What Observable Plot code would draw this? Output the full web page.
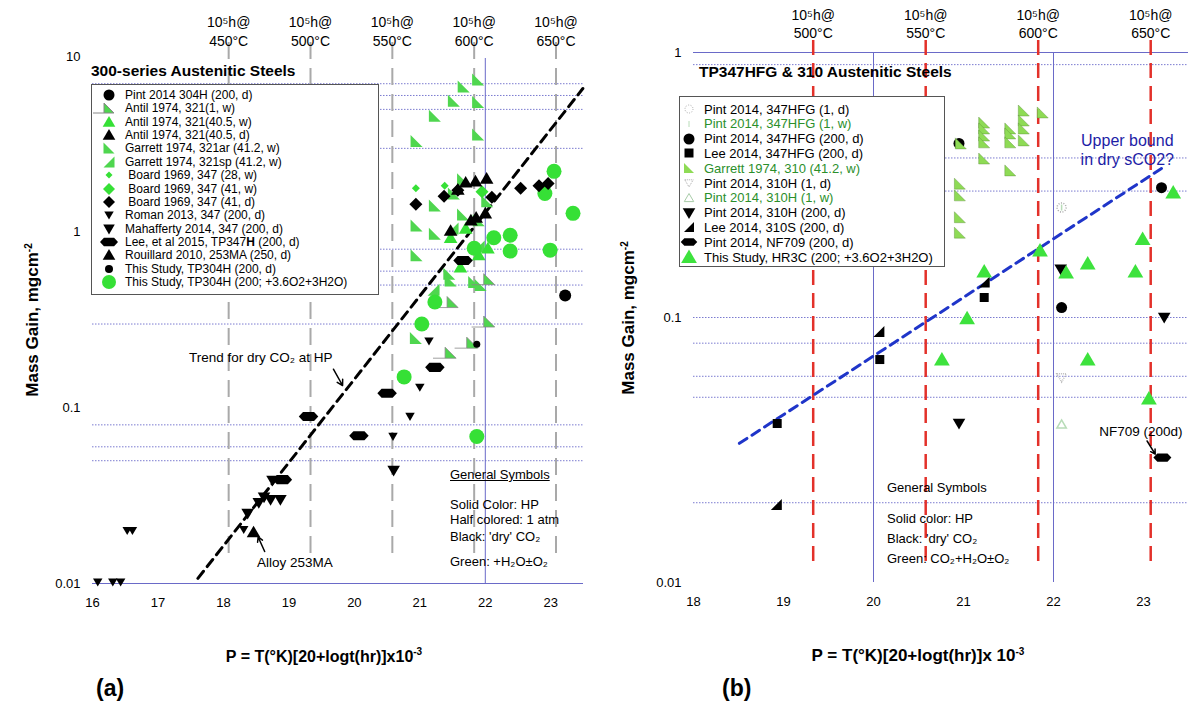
<!DOCTYPE html>
<html><head><meta charset="utf-8">
<script src="https://cdn.jsdelivr.net/npm/d3@7"></script>
<script src="https://cdn.jsdelivr.net/npm/@observablehq/plot@0.6"></script>
<style>
html,body{margin:0;padding:0;background:#fff;}
#wrap{position:relative;width:1188px;height:702px;overflow:hidden;font-family:"Liberation Sans",Arial,Helvetica,sans-serif;color:#000;}
.abs{position:absolute;white-space:nowrap;}
.pl{position:absolute;top:0;}
.legend{position:absolute;background:#fff;border:1px solid #555;box-sizing:border-box;}
.lrow{position:absolute;left:0;height:14px;display:flex;align-items:center;white-space:nowrap;}
</style></head><body><div id="wrap"></div>
<script>
// ---------------- DATA ----------------
// Reference lines: 10^5 h at temperature (Larson-Miller P)
const refTempsA = [450, 500, 550, 600, 650];
const refPA = [18.08, 19.33, 20.58, 21.83, 23.08];
const refTempsB = [500, 550, 600, 650];
const refPB = [19.33, 20.58, 21.83, 23.08];

const xTicksA = [16, 17, 18, 19, 20, 21, 22, 23];
const yTicksA = [0.01, 0.1, 1, 10];
const xTicksB = [18, 19, 20, 21, 22, 23];
const yTicksB = [0.01, 0.1, 1];

const gridYA = [7, 6, 5, 3, 0.8, 0.6, 0.5, 0.3, 0.08, 0.06, 0.05];
const gridXA = [22];
const gridYB = [0.9, 0.4, 0.3, 0.1, 0.08, 0.06, 0.05, 0.02];
const gridXB = [20, 22];

// Panel (a) series: [P, mass gain]
const aPint304H = [[23.22, 0.436]];
const aAntil1w = [[21.50, 0.40], [22.06, 0.31], [22.06, 0.54], [21.47, 0.206], [21.80, 0.235]];
const aAntil40w = [[21.47, 0.93], [22.04, 0.81], [21.90, 0.74], [21.70, 1.05], [21.62, 0.63]];
const aAntil40d = [[21.70, 1.92], [21.85, 1.95], [22.02, 2.02], [21.78, 1.17], [21.86, 1.21], [22.00, 1.28], [21.47, 1.02], [21.58, 1.75]];
const aGarrettAr = [[21.89, 7.4], [21.67, 6.75], [21.52, 5.6], [21.89, 5.5], [21.23, 4.6], [21.89, 3.6], [20.95, 3.3],
  [21.66, 2.0], [21.23, 1.42], [21.52, 1.66], [21.66, 1.26], [20.95, 1.09], [21.23, 0.98], [20.95, 0.74],
  [21.45, 0.58], [21.47, 0.53], [20.94, 0.25], [21.83, 0.52], [21.93, 0.50], [21.90, 1.17], [22.03, 1.5]];
const aGarrettSp = [[21.21, 0.47], [21.50, 1.05], [21.90, 0.83]];
const aBoard28w = [[20.94, 1.78], [21.38, 1.84]];
const aBoard41w = [[21.95, 1.70]];
const aBoard41d = [[20.94, 1.44], [21.37, 1.60], [21.58, 1.73], [22.54, 1.78], [22.82, 1.84], [22.96, 1.89], [22.10, 1.58]];
const aRoman = [[16.08, 0.0102], [16.31, 0.0102], [16.43, 0.0102], [16.53, 0.020], [16.61, 0.020], [18.31, 0.0203],
  [21.14, 0.24], [21.00, 0.131], [20.85, 0.0893], [20.59, 0.0687]];
const aMahafferty = [[20.60, 0.044], [18.37, 0.025], [18.54, 0.0288], [18.62, 0.031], [18.72, 0.030], [18.87, 0.030], [18.75, 0.0386]];
const aLee = [[18.90, 0.039], [19.30, 0.0893], [20.07, 0.0693], [20.50, 0.121], [21.23, 0.170], [21.66, 0.69]];
const aRouillard = [[18.46, 0.0196]];
const aStudyDry = [[21.87, 0.23]];
const aStudyWet = [[23.05, 2.22], [22.91, 1.66], [23.34, 1.28], [22.13, 0.93], [22.38, 0.96], [22.38, 0.78], [22.99, 0.79],
  [21.83, 0.81], [21.23, 0.40], [21.03, 0.30], [20.76, 0.150], [21.87, 0.0687]];
const aTrendP = [17.61, 23.49];
const aTrendV = [0.0107, 6.57];

// Panel (b) series
const bPint347_1d = [[22.09, 0.26]];
const bPint347_1w = [[22.09, 0.26]];
const bPint347_200d = [[20.95, 0.454], [23.20, 0.309], [22.09, 0.109]];
const bLee347 = [[21.23, 0.119], [20.07, 0.0694], [18.93, 0.0398]];
const bGarrett310 = [[21.23, 0.544], [21.23, 0.517], [21.23, 0.486], [21.23, 0.458], [21.23, 0.398],
  [21.52, 0.517], [21.52, 0.495], [21.52, 0.458], [21.52, 0.359],
  [21.67, 0.604], [21.67, 0.554], [21.67, 0.517], [21.67, 0.466], [21.88, 0.594],
  [20.96, 0.320], [20.96, 0.289], [20.96, 0.239], [20.96, 0.209], [20.97, 0.454]];
const bPint310_1d = [[22.09, 0.0594]];
const bPint310_1w = [[22.09, 0.0395]];
const bPint310_200d = [[22.08, 0.152], [23.23, 0.100], [20.95, 0.0398]];
const bLee310S = [[21.23, 0.136], [20.06, 0.0886], [18.92, 0.0197]];
const bNF709 = [[23.21, 0.0296]];
const bStudyHR3C = [[23.33, 0.296], [22.99, 0.198], [21.85, 0.179], [21.23, 0.149], [22.14, 0.148], [22.38, 0.160],
  [22.91, 0.149], [21.04, 0.0993], [20.76, 0.0694], [22.38, 0.0694], [23.06, 0.0495]];
const bBoundP = [18.51, 23.20];
const bBoundV = [0.0335, 0.365];

// ---------------- SYMBOLS ----------------
const S = f => ({draw(c, size) { const r = Math.sqrt(size / Math.PI); f(c, r); }});
const SYM = {
  circle: S((c, r) => { c.moveTo(r, 0); c.arc(0, 0, r, 0, 2 * Math.PI); }),
  triUp: S((c, r) => { c.moveTo(0, -r); c.lineTo(r * 1.05, r * 0.8); c.lineTo(-r * 1.05, r * 0.8); c.closePath(); }),
  triDown: S((c, r) => { c.moveTo(-r * 1.05, -r * 0.8); c.lineTo(r * 1.05, -r * 0.8); c.lineTo(0, r); c.closePath(); }),
  wedgeL: S((c, r) => { c.moveTo(-r, -r); c.lineTo(r, r); c.lineTo(-r, r); c.closePath(); }),
  wedgeR: S((c, r) => { c.moveTo(r, -r); c.lineTo(r, r); c.lineTo(-r, r); c.closePath(); }),
  wedgeHalf: S((c, r) => { c.moveTo(-r, -r); c.lineTo(r, r); c.lineTo(-r, r); c.closePath(); c.moveTo(-r, r); c.lineTo(-3.2 * r, r); }),
  hex: S((c, r) => { c.moveTo(-1.5 * r, 0); c.lineTo(-0.85 * r, -0.7 * r); c.lineTo(0.85 * r, -0.7 * r); c.lineTo(1.5 * r, 0); c.lineTo(0.85 * r, 0.7 * r); c.lineTo(-0.85 * r, 0.7 * r); c.closePath(); }),
  diamond: S((c, r) => { c.moveTo(0, -r); c.lineTo(r, 0); c.lineTo(0, r); c.lineTo(-r, 0); c.closePath(); }),
  square: S((c, r) => { c.rect(-r, -r, 2 * r, 2 * r); }),
  vline: S((c, r) => { c.moveTo(0, -r); c.lineTo(0, r); })
};

const G1 = "#36e036", G2 = "#4fd64f", G3 = "#8edb55", G4 = "#3de23d", GT = "#2b8f2b";
const GRID = "#7b7bd0";
const FONT = "Liberation Sans, Arial, Helvetica, sans-serif";
const X = d => d[0], Y = d => d[1];
const dot = (data, sym, r, fill, o = {}) => Plot.dot(data, {x: X, y: Y, symbol: SYM[sym], r, fill, stroke: "none", ...o});

const wrap = document.getElementById("wrap");
function place(node, left) { const d = document.createElement("div"); d.className = "pl"; d.style.left = left + "px"; d.appendChild(node); wrap.appendChild(d); }
function addText(html, style) { const d = document.createElement("div"); d.className = "abs"; d.innerHTML = html; Object.assign(d.style, style); wrap.appendChild(d); return d; }

// ---------------- PANEL (a) ----------------
const refA = refPA.map((P, i) => ({P, T: refTempsA[i]}));
const plotA = Plot.plot({
  width: 600, height: 620,
  marginLeft: 92, marginRight: 17, marginTop: 56, marginBottom: 37,
  x: {domain: [16, 23.5], label: null},
  y: {type: "log", domain: [0.01, 10], label: null},
  style: {fontFamily: FONT, fontSize: "13px", background: "transparent", overflow: "visible"},
  marks: [
    Plot.ruleY(gridYA, {stroke: GRID, strokeWidth: 1, strokeDasharray: "1.5,1.5"}),
    Plot.ruleY([0.01], {stroke: "#6a6ac8", strokeWidth: 1}),
    Plot.ruleX(gridXA, {stroke: "#6a6ac8", strokeWidth: 1, insetTop: 2}),
    Plot.ruleX(refA, {x: "P", stroke: "#a9a9a9", strokeWidth: 2, strokeDasharray: "17,9", insetTop: -14, insetBottom: 23}),
    Plot.text(refA, {x: "P", text: d => "10⁵h@\n" + d.T + "°C", frameAnchor: "top", lineAnchor: "bottom", dy: -11, fontSize: 14, lineHeight: 1.3}),
    Plot.axisX({ticks: xTicksA, tickSize: 0, tickPadding: 14, tickFormat: d => String(d), fontSize: 13}),
    Plot.axisY({ticks: yTicksA, tickSize: 0, tickPadding: 12, tickFormat: d => String(d), fontSize: 13}),
    Plot.line(aTrendP.map((p, i) => [p, aTrendV[i]]), {x: X, y: Y, stroke: "#000", strokeWidth: 3, strokeDasharray: "9,6"}),
    dot(aGarrettAr, "wedgeL", 6, G2),
    dot(aGarrettSp, "wedgeR", 6, G2),
    dot(aAntil1w, "wedgeHalf", 5.5, G2, {stroke: "#888", strokeWidth: 0.8}),
    dot(aAntil40w, "triUp", 6.5, G1),
    dot(aBoard28w, "diamond", 4, G1),
    dot(aBoard41w, "diamond", 6.5, G1),
    dot(aStudyWet, "circle", 7.5, G1),
    dot(aBoard41d, "diamond", 6.5, "#000"),
    dot(aAntil40d, "triUp", 6.5, "#000"),
    dot(aRoman, "triDown", 4.5, "#000"),
    dot(aMahafferty, "triDown", 6, "#000"),
    dot(aLee, "hex", 6.5, "#000"),
    dot(aRouillard, "triUp", 6.5, "#000"),
    dot(aPint304H, "circle", 6, "#000"),
    dot(aStudyDry, "circle", 3.5, "#000"),
    Plot.text([[18.57, 0.194]], {x: X, y: Y, text: ["Trend for dry CO₂ at HP"], fontSize: 13.5}),
    Plot.arrow([[19.68, 0.166, 19.82, 0.134]], {x1: d => d[0], y1: d => d[1], x2: d => d[2], y2: d => d[3], stroke: "#000", strokeWidth: 1.5, headLength: 7}),
    Plot.text([[19.09, 0.0132]], {x: X, y: Y, text: ["Alloy 253MA"], fontSize: 13.5}),
    Plot.arrow([[18.63, 0.0152, 18.53, 0.0184]], {x1: d => d[0], y1: d => d[1], x2: d => d[2], y2: d => d[3], stroke: "#000", strokeWidth: 1.5, headLength: 7})
  ]
});
place(plotA, 0);

// ---------------- PANEL (b) ----------------
const refB = refPB.map((P, i) => ({P, T: refTempsB[i]}));
const plotB = Plot.plot({
  width: 588, height: 620,
  marginLeft: 93, marginRight: 0, marginTop: 52, marginBottom: 38,
  x: {domain: [18, 23.5], label: null},
  y: {type: "log", domain: [0.01, 1], label: null},
  style: {fontFamily: FONT, fontSize: "13px", background: "transparent", overflow: "visible"},
  marks: [
    Plot.ruleY(gridYB, {stroke: GRID, strokeWidth: 1, strokeDasharray: "1.5,1.5"}),
    Plot.ruleY([1], {stroke: "#6a6ac8", strokeWidth: 1}),
    Plot.ruleX(gridXB, {stroke: "#6a6ac8", strokeWidth: 1}),
    Plot.ruleX(refB, {x: "P", stroke: "#e3312a", strokeWidth: 2.5, strokeDasharray: "15,8", insetTop: -12, insetBottom: 17}),
    Plot.text(refB, {x: "P", text: d => "10⁵h@\n" + d.T + "°C", frameAnchor: "top", lineAnchor: "bottom", dy: -15, fontSize: 14, lineHeight: 1.25}),
    Plot.axisX({ticks: xTicksB, tickSize: 0, tickPadding: 14, tickFormat: d => String(d), fontSize: 13}),
    Plot.axisY({ticks: yTicksB, tickSize: 0, tickPadding: 12, tickFormat: d => String(d), fontSize: 13}),
    Plot.line(bBoundP.map((p, i) => [p, bBoundV[i]]), {x: X, y: Y, stroke: "#1f35c9", strokeWidth: 3, strokeDasharray: "9,6"}),
    dot(bPint347_200d, "circle", 5.5, "#000"),
    dot(bGarrett310, "wedgeL", 5.5, G3, {stroke: "#5a8a3a", strokeWidth: 0.4}),
    dot(bLee347, "square", 4.5, "#000"),
    dot(bPint310_200d, "triDown", 6, "#000"),
    dot(bLee310S, "wedgeR", 5.5, "#000"),
    dot(bNF709, "hex", 6, "#000"),
    dot(bStudyHR3C, "triUp", 7.5, G4),
    Plot.dot(bPint347_1d, {x: X, y: Y, r: 4.5, fill: "none", stroke: "#aaa", strokeDasharray: "1,1.5"}),
    Plot.dot(bPint347_1w, {x: X, y: Y, symbol: SYM.vline, r: 3, fill: "none", stroke: "#b8dcb8"}),
    Plot.dot(bPint310_1d, {x: X, y: Y, symbol: SYM.triDown, r: 4.5, fill: "none", stroke: "#bbb", strokeDasharray: "1,1"}),
    Plot.dot(bPint310_1w, {x: X, y: Y, symbol: SYM.triUp, r: 4.5, fill: "none", stroke: "#b8dcb8"}),
    Plot.text([[22.82, 0.43]], {x: X, y: Y, text: ["Upper bound\nin dry sCO2?"], fontSize: 16, fill: "#1d1da6", lineHeight: 1.15}),
    Plot.text([[22.97, 0.0371]], {x: X, y: Y, text: ["NF709 (200d)"], fontSize: 13.5}),
    Plot.arrow([[23.04, 0.0342, 23.13, 0.0305]], {x1: d => d[0], y1: d => d[1], x2: d => d[2], y2: d => d[3], stroke: "#000", strokeWidth: 1.5, headLength: 7})
  ]
});
place(plotB, 600);

// ---------------- LEGENDS ----------------
const legendA = [
  {label: "Pint 2014 304H (200, d)", sym: "circle", fill: "#000", r: 5.5},
  {label: "Antil 1974, 321(1, w)", sym: "wedgeHalf", fill: G2, r: 5, stroke: "#888"},
  {label: "Antil 1974, 321(40.5, w)", sym: "triUp", fill: G1, r: 6},
  {label: "Antil 1974, 321(40.5, d)", sym: "triUp", fill: "#000", r: 6},
  {label: "Garrett 1974, 321ar (41.2, w)", sym: "wedgeL", fill: G2, r: 5.5},
  {label: "Garrett 1974, 321sp (41.2, w)", sym: "wedgeR", fill: G2, r: 5.5},
  {label: " Board 1969, 347 (28, w)", sym: "diamond", fill: G1, r: 3.5},
  {label: " Board 1969, 347 (41, w)", sym: "diamond", fill: G1, r: 6},
  {label: " Board 1969, 347 (41, d)", sym: "diamond", fill: "#000", r: 6},
  {label: "Roman 2013, 347 (200, d)", sym: "triDown", fill: "#000", r: 4.5},
  {label: "Mahafferty 2014, 347 (200, d)", sym: "triDown", fill: "#000", r: 5.5},
  {label: "Lee, et al 2015, TP347<b>H</b> (200, d)", sym: "hex", fill: "#000", r: 6},
  {label: "Rouillard 2010, 253MA (250, d)", sym: "triUp", fill: "#000", r: 6},
  {label: "This Study, TP304H (200, d)", sym: "circle", fill: "#000", r: 4},
  {label: "This Study, TP304H (200; +3.6O2+3H2O)", sym: "circle", fill: G1, r: 7}
];
const legendB = [
  {label: "Pint 2014, 347HFG (1, d)", sym: "circle", fill: "none", r: 4, stroke: "#aaa", dash: "1,1.5"},
  {label: "Pint 2014, 347HFG (1, w)", sym: "vline", fill: "none", r: 3, stroke: "#b8dcb8", color: GT},
  {label: "Pint 2014, 347HFG (200, d)", sym: "circle", fill: "#000", r: 5.5},
  {label: "Lee 2014, 347HFG (200, d)", sym: "square", fill: "#000", r: 4.5},
  {label: "Garrett 1974, 310 (41.2, w)", sym: "wedgeL", fill: G3, r: 5, color: GT},
  {label: "Pint 2014, 310H (1, d)", sym: "triDown", fill: "none", r: 4, stroke: "#aaa", dash: "1,1"},
  {label: "Pint 2014, 310H (1, w)", sym: "triUp", fill: "none", r: 4.5, stroke: "#a8cca8", color: GT},
  {label: "Pint 2014, 310H (200, d)", sym: "triDown", fill: "#000", r: 6},
  {label: "Lee 2014, 310S (200, d)", sym: "wedgeR", fill: "#000", r: 5},
  {label: "Pint 2014, NF709 (200, d)", sym: "hex", fill: "#000", r: 5.5},
  {label: "This Study, HR3C (200; +3.6O2+3H2O)", sym: "triUp", fill: G4, r: 7.5}
];
function buildLegend(entries, o) {
  const box = document.createElement("div");
  box.className = "legend";
  Object.assign(box.style, {left: o.left + "px", top: o.top + "px", width: o.width + "px", height: o.height + "px"});
  entries.forEach((e, i) => {
    const row = document.createElement("div");
    row.className = "lrow";
    row.style.top = (o.first + i * o.step - 7) + "px";
    row.style.fontSize = o.fontSize + "px";
    row.style.color = e.color || "#000";
    const path = d3.symbol(SYM[e.sym], Math.PI * e.r * e.r)();
    const sw = o.symW;
    row.innerHTML = `<svg width="${sw}" height="16" style="overflow:visible;flex:none"><path transform="translate(${o.symX},8)" d="${path}" fill="${e.fill}" stroke="${e.stroke || "none"}" stroke-width="1" ${e.dash ? `stroke-dasharray="${e.dash}"` : ""}/></svg><span style="white-space:pre">${e.label}</span>`;
    box.appendChild(row);
  });
  wrap.appendChild(box);
}
buildLegend(legendA, {left: 91, top: 84, width: 288, height: 211, first: 10, step: 13.36, fontSize: 12, symX: 17, symW: 33});
buildLegend(legendB, {left: 679, top: 96, width: 266, height: 171, first: 12, step: 14.8, fontSize: 13, symX: 9, symW: 24});

// ---------------- TEXT ----------------
addText("300-series Austenitic Steels", {left: "91px", top: "62px", fontSize: "15.5px", fontWeight: "bold"});
addText("TP347HFG &amp; 310 Austenitic Steels", {left: "699px", top: "63px", fontSize: "15.5px", fontWeight: "bold"});

addText('<span style="text-decoration:underline">General Symbols</span>', {left: "450px", top: "467px", fontSize: "13px"});
addText("Solid Color: HP<br>Half colored: 1 atm", {left: "450px", top: "497px", fontSize: "13px", lineHeight: "15px"});
addText("Black: 'dry' CO₂", {left: "450px", top: "529px", fontSize: "13px"});
addText("Green: +H₂O±O₂", {left: "450px", top: "554px", fontSize: "13px"});

addText("General Symbols", {left: "887px", top: "480px", fontSize: "13px"});
addText("Solid color: HP<br>Black: 'dry' CO₂", {left: "887px", top: "509px", fontSize: "13px", lineHeight: "20px"});
addText("Green: CO₂+H₂O±O₂", {left: "887px", top: "551px", fontSize: "13px"});

addText("Mass Gain, mgcm<sup style='font-size:10px'>-2</sup>", {left: "33px", top: "320px", fontSize: "17px", fontWeight: "bold", transform: "translate(-50%,-50%) rotate(-90deg)"});
addText("Mass Gain, mgcm<sup style='font-size:10px'>-2</sup>", {left: "629px", top: "318px", fontSize: "17px", fontWeight: "bold", transform: "translate(-50%,-50%) rotate(-90deg)"});

addText("P = T(°K)[20+logt(hr)]x10<sup style='font-size:10px'>-3</sup>", {left: "324px", top: "656px", fontSize: "16px", fontWeight: "bold", transform: "translate(-50%,-50%)"});
addText("P = T(°K)[20+logt(hr)]x 10<sup style='font-size:10px'>-3</sup>", {left: "918px", top: "656px", fontSize: "17px", fontWeight: "bold", transform: "translate(-50%,-50%)"});

addText("(a)", {left: "96px", top: "675px", fontSize: "23px", fontWeight: "bold"});
addText("(b)", {left: "722px", top: "675px", fontSize: "23px", fontWeight: "bold"});
</script></body></html>
